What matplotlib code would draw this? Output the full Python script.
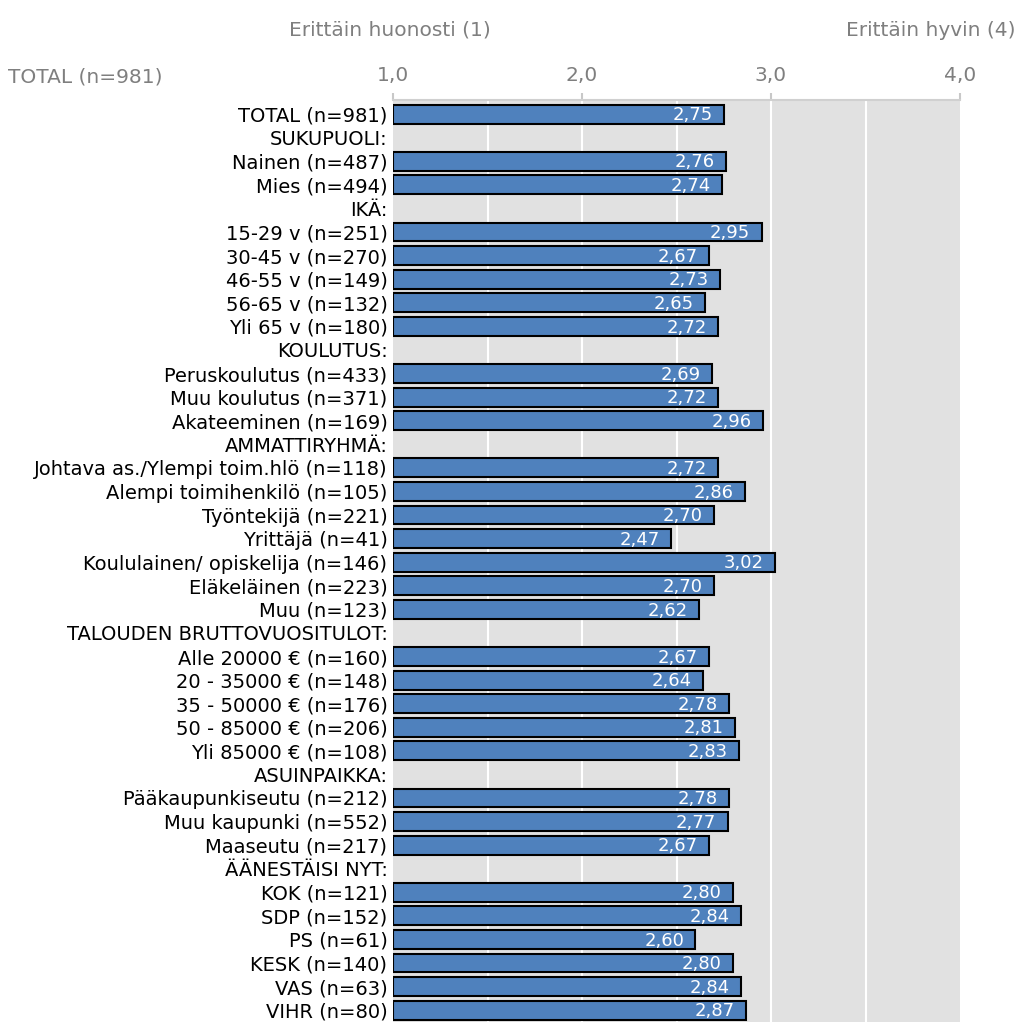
import matplotlib
matplotlib.use("Agg")
import matplotlib.pyplot as plt

plt.rcParams['font.family'] = ['DejaVu Sans']

labels = [
    "TOTAL (n=981)", "SUKUPUOLI:", "Nainen (n=487)", "Mies (n=494)",
    "IKÄ:", "15-29 v (n=251)", "30-45 v (n=270)", "46-55 v (n=149)",
    "56-65 v (n=132)", "Yli 65 v (n=180)",
    "KOULUTUS:", "Peruskoulutus (n=433)", "Muu koulutus (n=371)", "Akateeminen (n=169)",
    "AMMATTIRYHMÄ:", "Johtava as./Ylempi toim.hlö (n=118)", "Alempi toimihenkilö (n=105)",
    "Työntekijä (n=221)", "Yrittäjä (n=41)", "Koululainen/ opiskelija (n=146)",
    "Eläkeläinen (n=223)", "Muu (n=123)",
    "TALOUDEN BRUTTOVUOSITULOT:", "Alle 20000 € (n=160)", "20 - 35000 € (n=148)",
    "35 - 50000 € (n=176)", "50 - 85000 € (n=206)", "Yli 85000 € (n=108)",
    "ASUINPAIKKA:", "Pääkaupunkiseutu (n=212)", "Muu kaupunki (n=552)", "Maaseutu (n=217)",
    "ÄÄNESTÄISI NYT:", "KOK (n=121)", "SDP (n=152)", "PS (n=61)", "KESK (n=140)",
    "VAS (n=63)", "VIHR (n=80)",
]
# None = group header row (no bar)
values = [
    2.75, None, 2.76, 2.74,
    None, 2.95, 2.67, 2.73, 2.65, 2.72,
    None, 2.69, 2.72, 2.96,
    None, 2.72, 2.86, 2.70, 2.47, 3.02, 2.70, 2.62,
    None, 2.67, 2.64, 2.78, 2.81, 2.83,
    None, 2.78, 2.77, 2.67,
    None, 2.80, 2.84, 2.60, 2.80, 2.84, 2.87,
]
x_ticks = [1.0, 2.0, 3.0, 4.0]
grid_x = [1.5, 2.0, 2.5, 3.0, 3.5]

bar_color = '#4f81bd'
grey_txt = '#7f7f7f'

fig = plt.figure(figsize=(10.25, 10.23), dpi=100)
ax = fig.add_axes([393 / 1025, 1 / 1023, (960 - 393) / 1025, (1022 - 100) / 1023])
ax.set_facecolor('#e1e1e1')

for x in grid_x:
    ax.axvline(x, color='white', lw=1.5, zorder=1)

for i, v in enumerate(values):
    if v is None:
        continue
    ax.barh(i, v - 1.0, left=1.0, height=0.8, color=bar_color,
            edgecolor='black', linewidth=1.5, zorder=2)
    ax.text(v - 0.06, i + 0.05, f"{v:.2f}".replace('.', ','), color='white',
            ha='right', va='center', fontsize=13, zorder=3)

ax.set_xlim(1.0, 4.0)
ax.set_ylim(len(labels) - 0.5, -0.6)
ax.set_yticks(range(len(labels)))
ax.set_yticklabels(labels, fontsize=14)
ax.tick_params(axis='y', length=0, pad=4)

ax.xaxis.tick_top()
ax.set_xticks(x_ticks)
ax.set_xticklabels([f"{t:.1f}".replace('.', ',') for t in x_ticks])
ax.tick_params(axis='x', colors='#c8c8c8', labelcolor=grey_txt, labelsize=14.5,
               length=5, width=1.5, pad=6)

for s in ['left', 'right', 'bottom']:
    ax.spines[s].set_visible(False)
ax.spines['top'].set_color('#d0d0d0')
ax.spines['top'].set_linewidth(1.5)

fig.text(390 / 1025, 1 - 30 / 1023, "Erittäin huonosti (1)", color=grey_txt,
         fontsize=14.5, ha='center', va='center')
fig.text(1015 / 1025, 1 - 30 / 1023, "Erittäin hyvin (4)", color=grey_txt,
         fontsize=14.5, ha='right', va='center')
fig.text(8 / 1025, 1 - 77 / 1023, "TOTAL (n=981)", color=grey_txt,
         fontsize=14.5, ha='left', va='center')

fig.savefig("out.png", dpi=100)
